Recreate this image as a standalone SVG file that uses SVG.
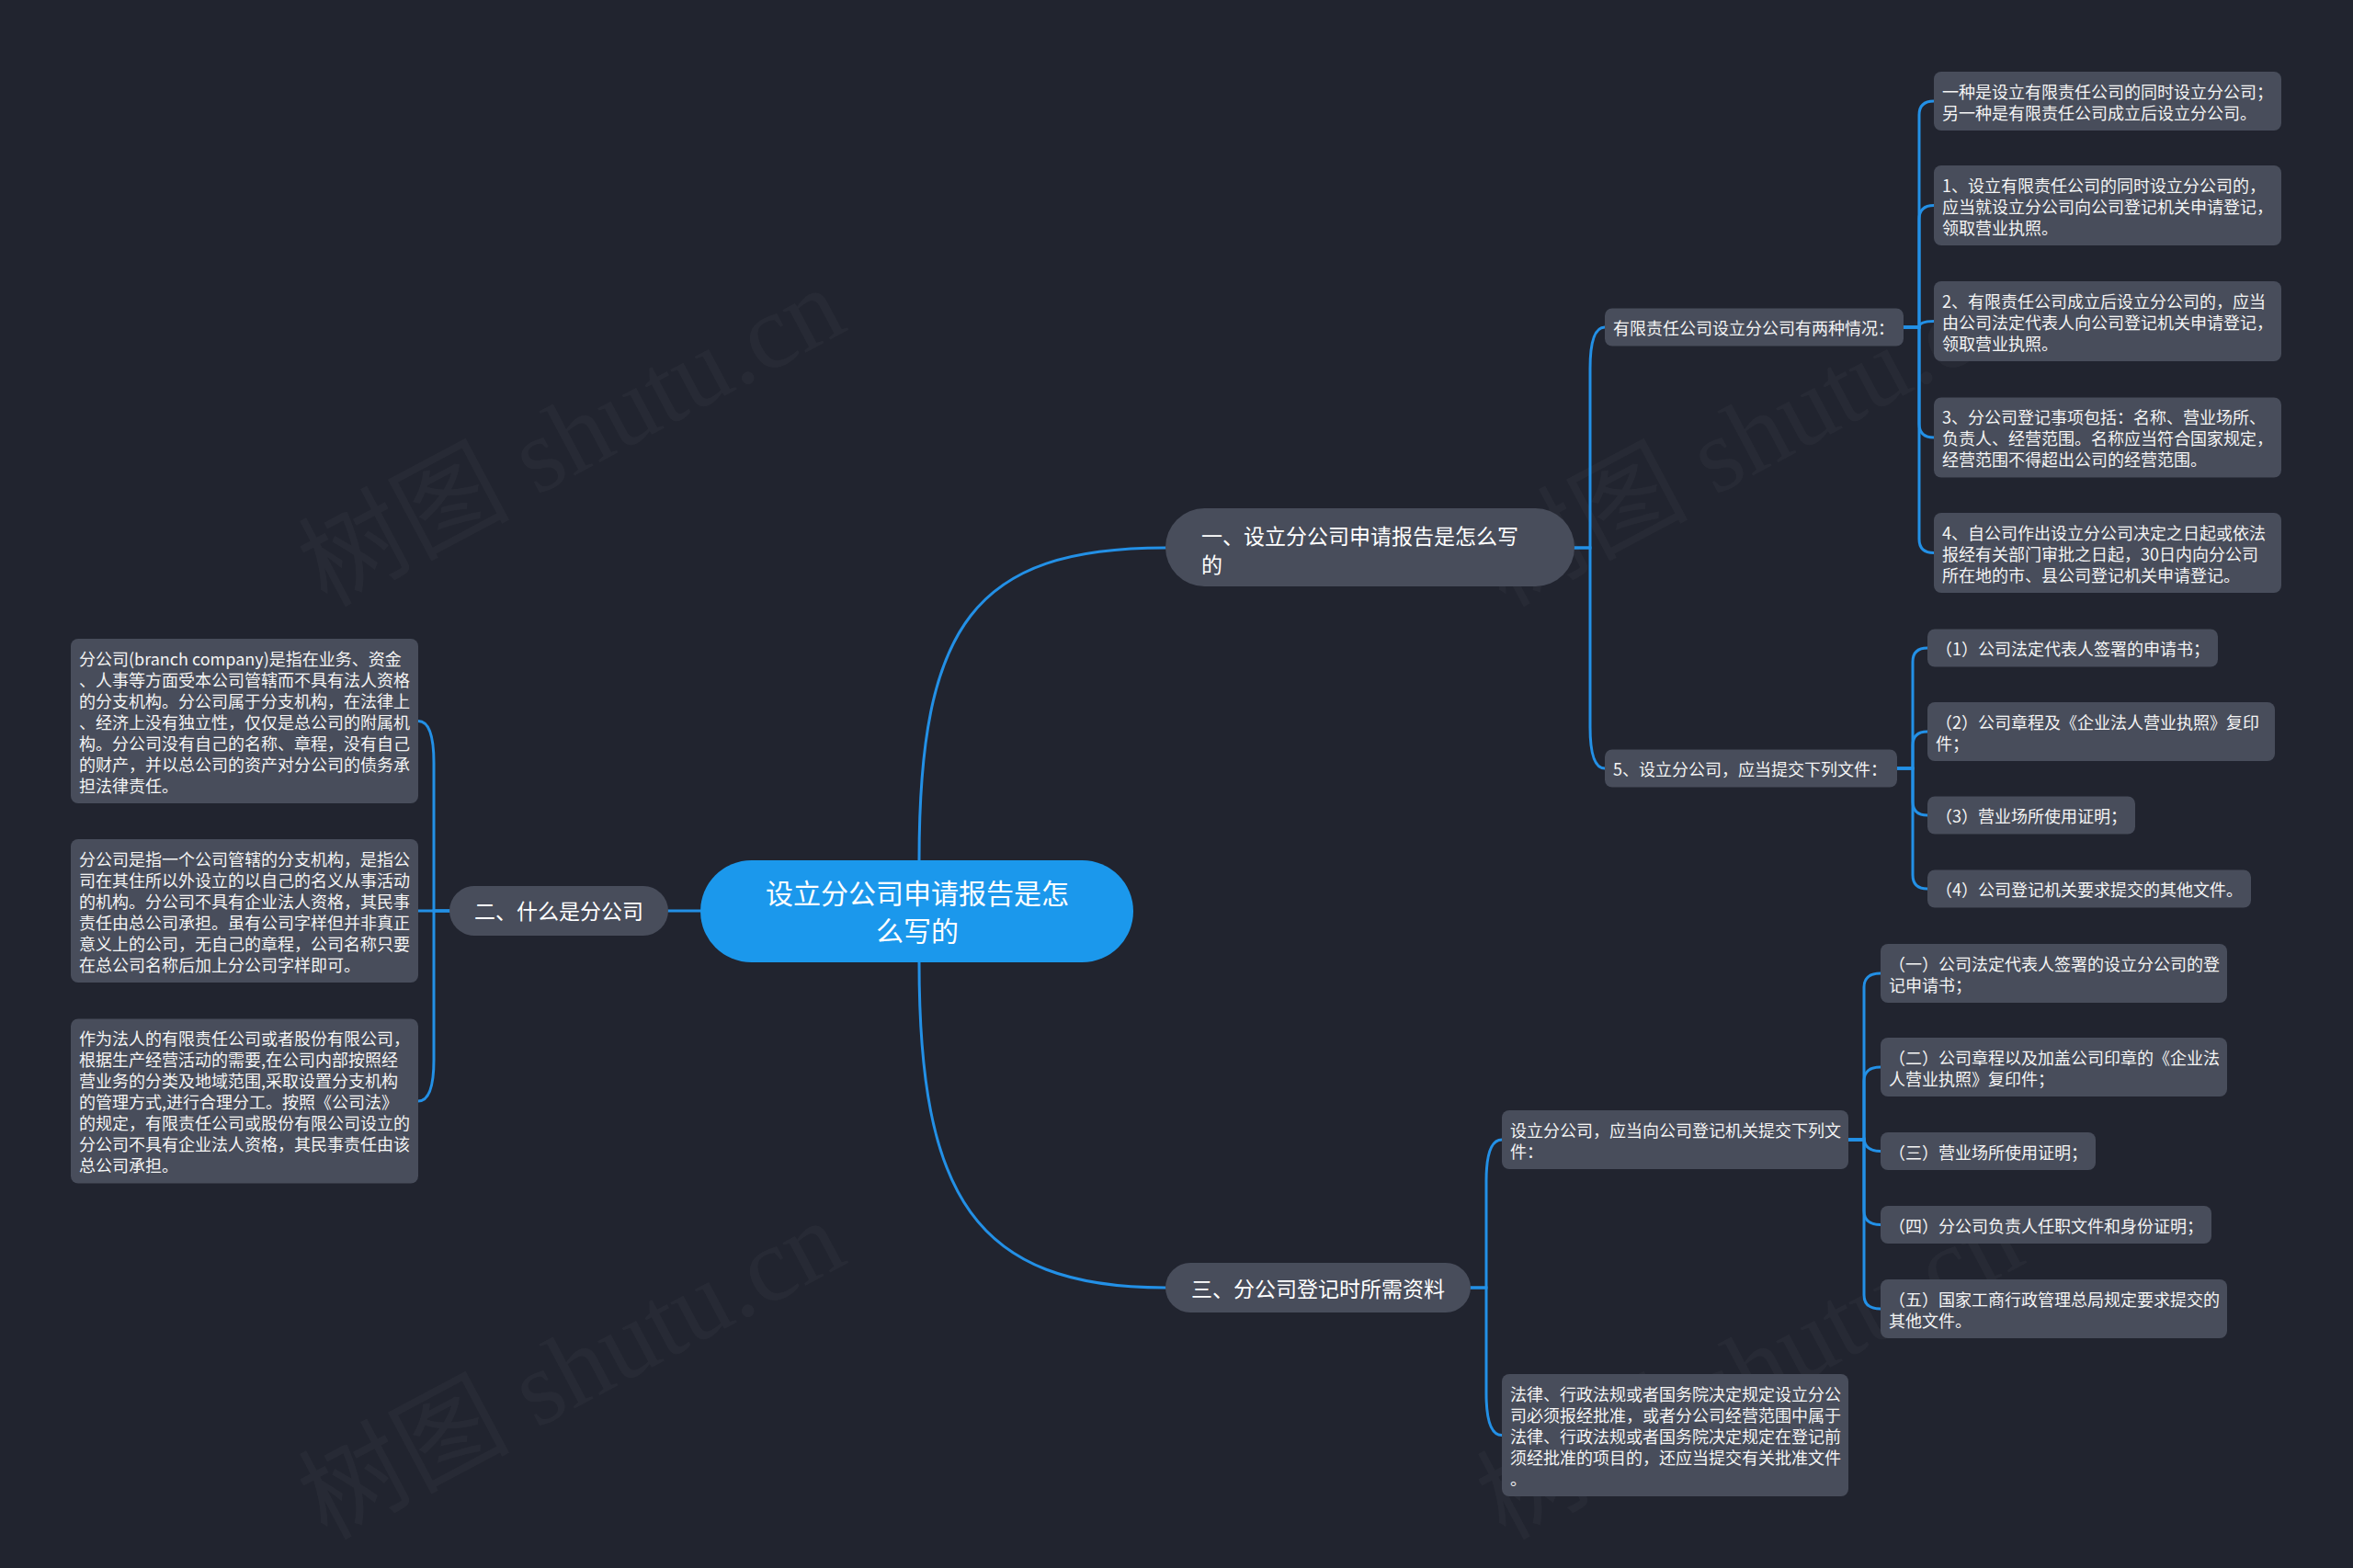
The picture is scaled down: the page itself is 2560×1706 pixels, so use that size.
<svg xmlns="http://www.w3.org/2000/svg" width="2560" height="1706" viewBox="0 0 2560 1706">
<style>
.bg{fill:#21242f}
.wm{font-family:"Liberation Serif","Noto Sans CJK SC",serif;font-size:115px;fill:#ffffff;fill-opacity:0.03}
.box{fill:#484d5b}
.pill{fill:#484d5b}
.rootbox{fill:#1b98ec}
.t{font-family:"Noto Sans CJK SC","Liberation Sans",sans-serif;font-size:18px;fill:#f4f4f4;dominant-baseline:central}
.t1{font-family:"Noto Sans CJK SC","Liberation Sans",sans-serif;font-size:23px;fill:#ffffff;dominant-baseline:central}
.t0{font-family:"Noto Sans CJK SC","Liberation Sans",sans-serif;font-size:30px;fill:#ffffff;dominant-baseline:central;text-anchor:middle}
.c{fill:none;stroke:#2390e6;stroke-width:3;stroke-linecap:round}
</style>
<rect class="bg" x="0" y="0" width="2560" height="1706"/>
<g id="watermarks">
<text class="wm" transform="translate(355,661) rotate(-28)">树图 shutu.cn</text>
<text class="wm" transform="translate(1637,661) rotate(-28)">树图 shutu.cn</text>
<text class="wm" transform="translate(355,1676) rotate(-28)">树图 shutu.cn</text>
<text class="wm" transform="translate(1637,1676) rotate(-28)">树图 shutu.cn</text>
</g>
<g id="connectors">
<path class="c" d="M1000 936 C1000 680 1060 596 1268 596"/>
<path class="c" d="M1000 1047 C1000 1300 1060 1401 1268 1401"/>
<path class="c" d="M762 991 H727"/>
<path class="c" d="M1713 596 H1730 V401 C1730 376 1734 356 1746 356"/>
<path class="c" d="M1713 596 H1730 V791 C1730 816 1734 836 1746 836"/>
<path class="c" d="M1600 1401 H1617 V1285 C1617 1260 1621 1240 1634 1240"/>
<path class="c" d="M1600 1401 H1617 V1516 C1617 1541 1621 1561.5 1634 1561.5"/>
<path class="c" d="M489 991 H472 V830 C472 805 468 784.5 455 784.5"/>
<path class="c" d="M489 991 H455"/>
<path class="c" d="M489 991 H472 V1153 C472 1178 468 1198 455 1198"/>
<path class="c" d="M2071 356 H2088 V125 Q2088 110 2104 110"/>
<path class="c" d="M2071 356 H2088 V238.5 Q2088 223.5 2104 223.5"/>
<path class="c" d="M2071 356 H2088 Q2088 349.5 2104 349.5"/>
<path class="c" d="M2071 356 H2088 V461 Q2088 476 2104 476"/>
<path class="c" d="M2071 356 H2088 V586.5 Q2088 601.5 2104 601.5"/>
<path class="c" d="M2064 836 H2081 V720 Q2081 705 2097 705"/>
<path class="c" d="M2064 836 H2081 V811 Q2081 796 2097 796"/>
<path class="c" d="M2064 836 H2081 V872 Q2081 887 2097 887"/>
<path class="c" d="M2064 836 H2081 V952 Q2081 967 2097 967"/>
<path class="c" d="M2011 1240 H2028 V1074 Q2028 1059 2046 1059"/>
<path class="c" d="M2011 1240 H2028 V1176 Q2028 1161 2046 1161"/>
<path class="c" d="M2011 1240 H2028 V1237.5 Q2028 1252.5 2046 1252.5"/>
<path class="c" d="M2011 1240 H2028 V1317.5 Q2028 1332.5 2046 1332.5"/>
<path class="c" d="M2011 1240 H2028 V1409 Q2028 1424 2046 1424"/>
</g>
<g id="root">
<rect class="rootbox" x="762" y="936" width="471" height="111" rx="55.5"/>
<text class="t0" x="998" y="970">设立分公司申请报告是怎</text>
<text class="t0" x="998" y="1011">么写的</text>
</g>
<g id="n1">
<rect class="pill" x="1268" y="553" width="445" height="85" rx="42.5"/>
<text class="t1" x="1307" y="582">一、设立分公司申请报告是怎么写</text>
<text class="t1" x="1307" y="613">的</text>
</g>
<g id="n2">
<rect class="pill" x="489" y="964" width="238" height="54" rx="27"/>
<text class="t1" x="608" y="990" text-anchor="middle">二、什么是分公司</text>
</g>
<g id="n3">
<rect class="pill" x="1268" y="1374" width="332" height="54" rx="27"/>
<text class="t1" x="1434" y="1401" text-anchor="middle">三、分公司登记时所需资料</text>
</g>
<g id="nA">
<rect class="box" x="1746" y="335.5" width="325" height="41" rx="8"/>
<text class="t" x="1755" y="356">有限责任公司设立分公司有两种情况：</text>
</g>
<g id="nA1">
<rect class="box" x="2104" y="78" width="378" height="64" rx="8"/>
<text class="t" x="2113" y="98.5">一种是设立有限责任公司的同时设立分公司；</text>
<text class="t" x="2113" y="121.5">另一种是有限责任公司成立后设立分公司。</text>
</g>
<g id="nA2">
<rect class="box" x="2104" y="180" width="378" height="87" rx="8"/>
<text class="t" x="2113" y="200.5">1、设立有限责任公司的同时设立分公司的，</text>
<text class="t" x="2113" y="223.5">应当就设立分公司向公司登记机关申请登记，</text>
<text class="t" x="2113" y="246.5">领取营业执照。</text>
</g>
<g id="nA3">
<rect class="box" x="2104" y="306" width="378" height="87" rx="8"/>
<text class="t" x="2113" y="326.5">2、有限责任公司成立后设立分公司的，应当</text>
<text class="t" x="2113" y="349.5">由公司法定代表人向公司登记机关申请登记，</text>
<text class="t" x="2113" y="372.5">领取营业执照。</text>
</g>
<g id="nA4">
<rect class="box" x="2104" y="432.5" width="378" height="87" rx="8"/>
<text class="t" x="2113" y="453">3、分公司登记事项包括：名称、营业场所、</text>
<text class="t" x="2113" y="476">负责人、经营范围。名称应当符合国家规定，</text>
<text class="t" x="2113" y="499">经营范围不得超出公司的经营范围。</text>
</g>
<g id="nA5">
<rect class="box" x="2104" y="558" width="378" height="87" rx="8"/>
<text class="t" x="2113" y="578.5">4、自公司作出设立分公司决定之日起或依法</text>
<text class="t" x="2113" y="601.5">报经有关部门审批之日起，30日内向分公司</text>
<text class="t" x="2113" y="624.5">所在地的市、县公司登记机关申请登记。</text>
</g>
<g id="nB">
<rect class="box" x="1746" y="815.5" width="318" height="41" rx="8"/>
<text class="t" x="1755" y="836">5、设立分公司，应当提交下列文件：</text>
</g>
<g id="nB1">
<rect class="box" x="2097" y="684.5" width="316" height="41" rx="8"/>
<text class="t" x="2106" y="705">（1）公司法定代表人签署的申请书；</text>
</g>
<g id="nB2">
<rect class="box" x="2097" y="764" width="378" height="64" rx="8"/>
<text class="t" x="2106" y="784.5">（2）公司章程及《企业法人营业执照》复印</text>
<text class="t" x="2106" y="807.5">件；</text>
</g>
<g id="nB3">
<rect class="box" x="2097" y="866.5" width="226" height="41" rx="8"/>
<text class="t" x="2106" y="887">（3）营业场所使用证明；</text>
</g>
<g id="nB4">
<rect class="box" x="2097" y="946.5" width="352" height="41" rx="8"/>
<text class="t" x="2106" y="967">（4）公司登记机关要求提交的其他文件。</text>
</g>
<g id="nL1">
<rect class="box" x="77" y="695" width="378" height="179" rx="8"/>
<text class="t" x="86" y="715.5">分公司(branch company)是指在业务、资金</text>
<text class="t" x="86" y="738.5">、人事等方面受本公司管辖而不具有法人资格</text>
<text class="t" x="86" y="761.5">的分支机构。分公司属于分支机构，在法律上</text>
<text class="t" x="86" y="784.5">、经济上没有独立性，仅仅是总公司的附属机</text>
<text class="t" x="86" y="807.5">构。分公司没有自己的名称、章程，没有自己</text>
<text class="t" x="86" y="830.5">的财产，并以总公司的资产对分公司的债务承</text>
<text class="t" x="86" y="853.5">担法律责任。</text>
</g>
<g id="nL2">
<rect class="box" x="77" y="913" width="378" height="156" rx="8"/>
<text class="t" x="86" y="933.5">分公司是指一个公司管辖的分支机构，是指公</text>
<text class="t" x="86" y="956.5">司在其住所以外设立的以自己的名义从事活动</text>
<text class="t" x="86" y="979.5">的机构。分公司不具有企业法人资格，其民事</text>
<text class="t" x="86" y="1002.5">责任由总公司承担。虽有公司字样但并非真正</text>
<text class="t" x="86" y="1025.5">意义上的公司，无自己的章程，公司名称只要</text>
<text class="t" x="86" y="1048.5">在总公司名称后加上分公司字样即可。</text>
</g>
<g id="nL3">
<rect class="box" x="77" y="1108.5" width="378" height="179" rx="8"/>
<text class="t" x="86" y="1129">作为法人的有限责任公司或者股份有限公司，</text>
<text class="t" x="86" y="1152">根据生产经营活动的需要,在公司内部按照经</text>
<text class="t" x="86" y="1175">营业务的分类及地域范围,采取设置分支机构</text>
<text class="t" x="86" y="1198">的管理方式,进行合理分工。按照《公司法》</text>
<text class="t" x="86" y="1221">的规定，有限责任公司或股份有限公司设立的</text>
<text class="t" x="86" y="1244">分公司不具有企业法人资格，其民事责任由该</text>
<text class="t" x="86" y="1267">总公司承担。</text>
</g>
<g id="nC">
<rect class="box" x="1634" y="1208" width="377" height="64" rx="8"/>
<text class="t" x="1643" y="1228.5">设立分公司，应当向公司登记机关提交下列文</text>
<text class="t" x="1643" y="1251.5">件：</text>
</g>
<g id="nD">
<rect class="box" x="1634" y="1495" width="377" height="133" rx="8"/>
<text class="t" x="1643" y="1515.5">法律、行政法规或者国务院决定规定设立分公</text>
<text class="t" x="1643" y="1538.5">司必须报经批准，或者分公司经营范围中属于</text>
<text class="t" x="1643" y="1561.5">法律、行政法规或者国务院决定规定在登记前</text>
<text class="t" x="1643" y="1584.5">须经批准的项目的，还应当提交有关批准文件</text>
<text class="t" x="1643" y="1607.5">。</text>
</g>
<g id="nE1">
<rect class="box" x="2046" y="1027" width="377" height="64" rx="8"/>
<text class="t" x="2055" y="1047.5">（一）公司法定代表人签署的设立分公司的登</text>
<text class="t" x="2055" y="1070.5">记申请书；</text>
</g>
<g id="nE2">
<rect class="box" x="2046" y="1129" width="377" height="64" rx="8"/>
<text class="t" x="2055" y="1149.5">（二）公司章程以及加盖公司印章的《企业法</text>
<text class="t" x="2055" y="1172.5">人营业执照》复印件；</text>
</g>
<g id="nE3">
<rect class="box" x="2046" y="1232" width="234" height="41" rx="8"/>
<text class="t" x="2055" y="1252.5">（三）营业场所使用证明；</text>
</g>
<g id="nE4">
<rect class="box" x="2046" y="1312" width="360" height="41" rx="8"/>
<text class="t" x="2055" y="1332.5">（四）分公司负责人任职文件和身份证明；</text>
</g>
<g id="nE5">
<rect class="box" x="2046" y="1392" width="377" height="64" rx="8"/>
<text class="t" x="2055" y="1412.5">（五）国家工商行政管理总局规定要求提交的</text>
<text class="t" x="2055" y="1435.5">其他文件。</text>
</g>
</svg>
